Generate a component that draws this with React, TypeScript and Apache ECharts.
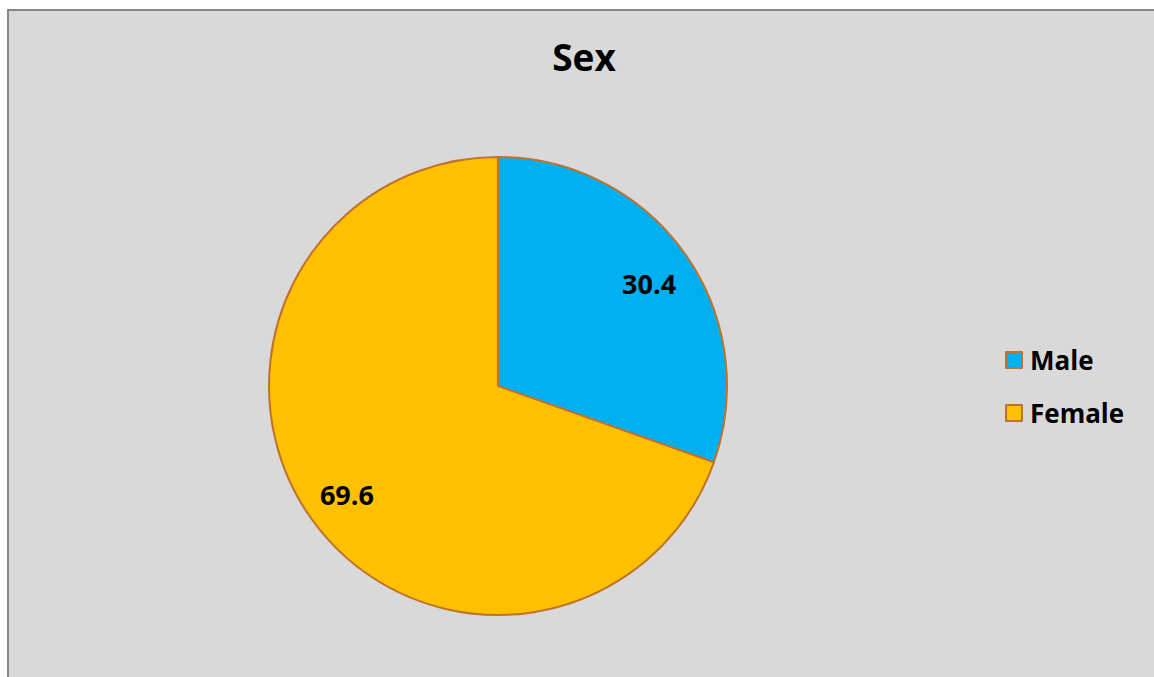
import React, { useEffect, useRef } from "react";
import * as echarts from "echarts";

const categories = ["Male", "Female"];
const values = [30.4, 69.6];
const colors = ["#00b0f0", "#ffc000"];
const titleText = "Sex";

export default function App() {
  const ref = useRef<HTMLDivElement>(null);
  useEffect(() => {
    if (!ref.current) return;
    document.documentElement.style.overflow = "hidden";
    document.body.style.overflow = "hidden";
    const chart = echarts.init(ref.current, null, { renderer: "svg" });
    const data = categories.map((name, i) => ({
      name,
      value: values[i],
      itemStyle: { color: colors[i] },
    }));
    const labelOffsets = [[-2, 6], [2, 0]];
    const font = "'Open Sans', sans-serif";
    chart.setOption({
      animation: false,
      backgroundColor: "#d9d9d9",
      title: {
        text: titleText,
        left: "center",
        top: 22,
        textStyle: { fontFamily: font, fontSize: 37, fontWeight: "bold", color: "#000" },
      },
      legend: {
        orient: "vertical",
        left: 991,
        top: 331,
        itemWidth: 16,
        itemHeight: 16,
        itemGap: 27,
        itemStyle: { borderColor: "#c0712e", borderWidth: 2 },
        icon: "rect",
        data: categories,
        textStyle: {
          fontFamily: font,
          fontSize: 26,
          fontWeight: "bold",
          color: "#000",
          lineHeight: 26,
          padding: [0, 0, 0, 3],
        },
      },
      series: [
        {
          type: "pie",
          center: [489, 375],
          radius: [0, 229],
          startAngle: 90,
          clockwise: true,
          silent: true,
          data,
          label: { show: false },
          labelLine: { show: false },
          itemStyle: { borderColor: "#c0712e", borderWidth: 2 },
        },
        {
          type: "pie",
          center: [489, 375],
          radius: [140, 229],
          startAngle: 90,
          clockwise: true,
          silent: true,
          legendHoverLink: false,
          data: categories.map((name, i) => ({
            name,
            value: values[i],
            label: { offset: labelOffsets[i] },
          })),
          itemStyle: { color: "rgba(0,0,0,0)", borderWidth: 0 },
          label: {
            show: true,
            position: "inside",
            formatter: (p: any) => p.value.toFixed(1),
            fontFamily: font,
            fontSize: 27,
            fontWeight: "bold",
            color: "#000",
          },
          labelLine: { show: false },
        },
      ],
    });
    return () => chart.dispose();
  }, []);
  return (
    <div
      style={{
        position: "fixed",
        left: 7,
        top: 9,
        borderTop: "2px solid #878787",
        borderLeft: "2px solid #878787",
        width: 1150,
        height: 670,
        overflow: "hidden",
      }}
    >
      <div ref={ref} style={{ width: 1150, height: 670 }} />
    </div>
  );
}
